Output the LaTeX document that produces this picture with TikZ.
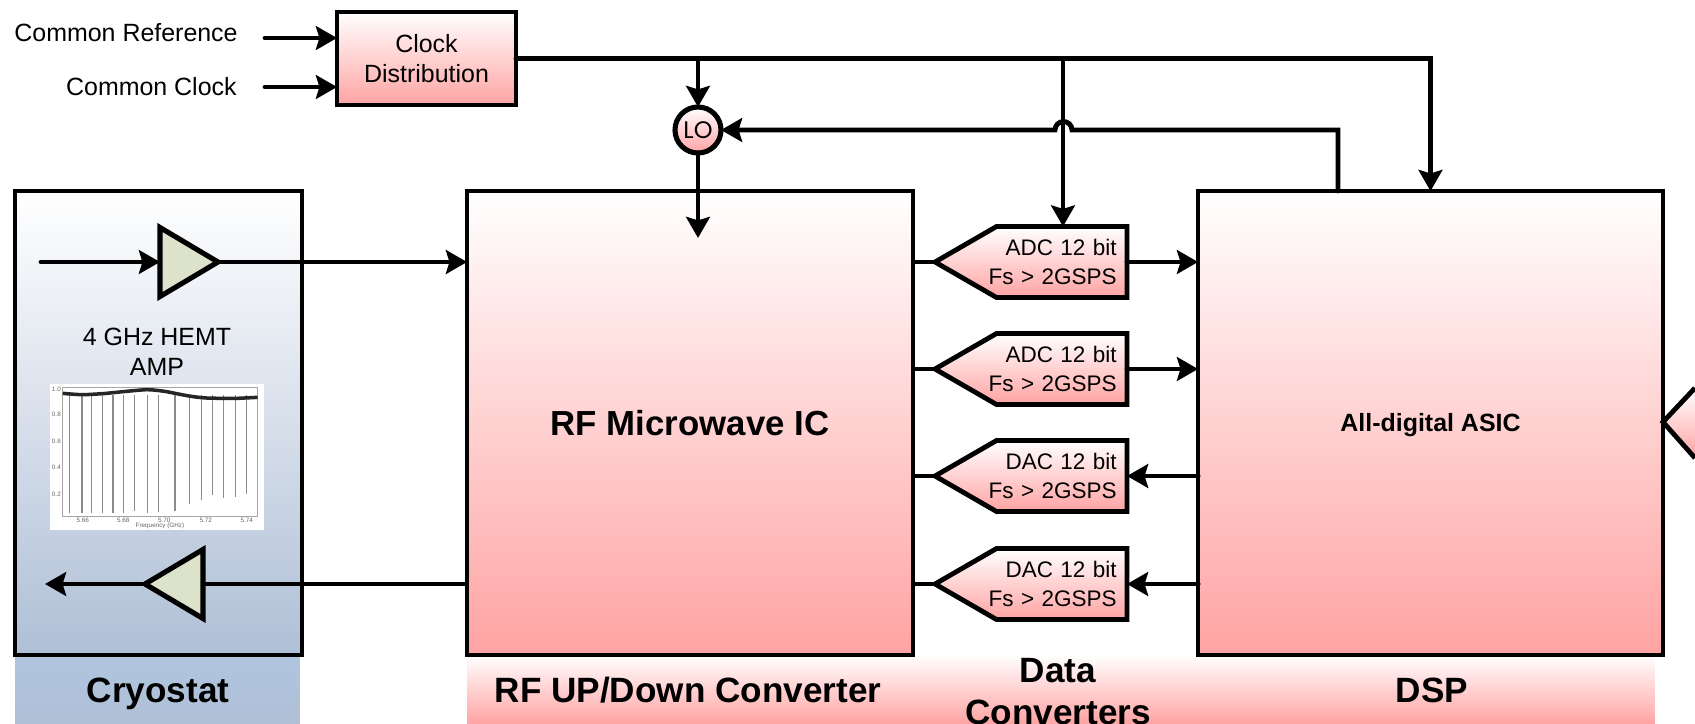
\documentclass[tikz,border=0pt]{standalone}
\usepackage{fontspec}
\setmainfont{Liberation Sans}
\newfontfamily\lofont{Poppins}
\usetikzlibrary{shapes.geometric, shapes.symbols, arrows.meta, positioning}
\definecolor{PinkEnd}{RGB}{255, 163, 163}
\definecolor{BlueEnd}{RGB}{175, 191, 214}
\definecolor{BlueStrip}{RGB}{177, 197, 224}
\definecolor{AmpGreen}{RGB}{221, 226, 203}
\definecolor{PlotGray}{RGB}{140, 140, 140}
\newcommand{\convlabel}[2]{\leavevmode\llap{#1}\\\leavevmode\llap{#2}}

\begin{document}
\begin{tikzpicture}[
    x=0.02cm, y=-0.02cm,
    pinkfill/.style={top color=white, bottom color=PinkEnd},
    block/.style={rectangle, draw=black, pinkfill, line width=2.75pt, outer sep=0pt, align=center},
    ampbox/.style={isosceles triangle, isosceles triangle stretches, draw=black, fill=AmpGreen, line width=2.9pt, inner sep=0pt, outer sep=0pt, minimum width=1.38cm, minimum height=1.16cm},
    conv/.style={signal, signal to=west, signal pointer angle=60, draw=black, pinkfill, line width=2.75pt, inner ysep=0pt, inner xsep=5.2pt, outer sep=0pt, minimum height=1.42cm, minimum width=3.84cm, text width=2.2cm, align=right, font=\fontsize{12.8}{16}\selectfont},
    arrow/.style={line width=2.8pt, line cap=round, -{Stealth[length=12pt, width=13.5pt, inset=2pt]}},
    wire/.style={line width=2.8pt},
    plain/.style={font=\fontsize{14.2}{17}\selectfont, align=center},
    title/.style={font=\fontsize{20}{24}\selectfont\bfseries, align=center}
]
    \useasboundingbox (0,0) rectangle (1695,724);

    % Strips under the blocks
    \node (cryostrip) [rectangle, inner sep=0pt, minimum width=5.7cm, minimum height=1.38cm, top color=BlueStrip, bottom color=BlueEnd] at (157.5,689.5) {};
    \node (pinkstrip) [rectangle, inner sep=0pt, minimum width=23.76cm, minimum height=1.38cm, pinkfill] at (1061,689.5) {};

    % Nodes placement
    \node (cryo) [block, top color=white, bottom color=BlueEnd, minimum width=5.74cm, minimum height=9.28cm] at (158.5,423) {};
    \node (rf) [block, minimum width=8.92cm, minimum height=9.28cm, font=\fontsize{19.8}{24}\selectfont\bfseries] at (690,423) {RF Microwave IC};
    \node (dsp) [block, minimum width=9.3cm, minimum height=9.28cm] at (1430.5,423) {};
    \node (asic) [inner sep=0pt, font=\fontsize{14.2}{17}\selectfont\bfseries] at (1430.5,425.5) {All-digital ASIC};
    \node (clock) [block, minimum width=3.58cm, minimum height=1.86cm, font=\fontsize{14.2}{16.8}\selectfont] at (426.5,58.5) {Clock\\Distribution};
    \node (lo) [circle, draw=black, pinkfill, line width=2.9pt, inner sep=0pt, outer sep=0pt, minimum size=0.92cm, font=\lofont\fontsize{13.6}{16}\selectfont] at (698,130) {LO};

    \node (adcone) [conv, anchor=east] at (1127,262) {\convlabel{ADC 12 bit}{Fs > 2GSPS}};
    \node (adctwo) [conv, anchor=east] at (1127,369) {\convlabel{ADC 12 bit}{Fs > 2GSPS}};
    \node (dacone) [conv, anchor=east] at (1127,476) {\convlabel{DAC 12 bit}{Fs > 2GSPS}};
    \node (dactwo) [conv, anchor=east] at (1127,584) {\convlabel{DAC 12 bit}{Fs > 2GSPS}};

    \node (ampin) [ampbox, anchor=apex] at (218,262) {};
    \node (ampout) [ampbox, shape border rotate=180, anchor=apex] at (145,584) {};

    % Text labels
    \node (commonref) [plain, anchor=east, inner sep=0pt] at (238,33) {Common Reference};
    \node (commonclk) [plain, anchor=east, inner sep=0pt] at (237,87) {Common Clock};
    \node (hemt) [plain, font=\fontsize{14.2}{16.8}\selectfont] at (157,352) {4 GHz HEMT\\AMP};
    \node (cryotext) [title, anchor=base, inner sep=0pt] at (158,702) {Cryostat};
    \node (rftext) [title, anchor=base, inner sep=0pt] at (688,702) {RF UP/Down Converter};
    \node (datatext) [title, anchor=south, inner sep=0pt] at (1058,725.5) {Data\\Converters};
    \node (dsptext) [title, anchor=base, inner sep=0pt] at (1432,702) {DSP};

    % Resonator plot inside the cryostat
    \begin{scope}[shift={(40,375)}, x=0.00667cm, y=-0.00667cm]
        \fill[white] (30,28) rectangle (672,465);
        \draw[black!35, line width=0.25pt] (68,38) rectangle (653,423);
        \foreach \xa/\ya in {88/415, 126/415, 155/415, 187/415, 219/415, 250/415, 284/408, 323/415, 356/412, 405/408, 448/388, 484/375, 518/360, 551/368, 586/365, 619/357}
            \draw[PlotGray, line width=0.8pt] (\xa,60) -- (\xa,\ya);
        \draw[black!85, line width=2pt] plot[smooth] coordinates {(68,55) (126,59) (187,56) (219,53) (270,48) (320,44) (350,46) (380,50) (420,58) (460,65) (500,69) (550,70) (590,70) (653,67)};
        \foreach \ya/\ylab in {42/1.0, 118/0.8, 198/0.6, 278/0.4, 358/0.2}
            \node[font=\fontsize{3.6}{4}\selectfont, anchor=east, inner sep=0.5pt, text=black!60] at (66,\ya) {\ylab};
        \foreach \xa/\xlab in {128/5.66, 250/5.68, 373/5.70, 497/5.72, 620/5.74}
            \node[font=\fontsize{3.6}{4}\selectfont, inner sep=0pt, text=black!60] at (\xa,435) {\xlab};
        \node[font=\fontsize{3.6}{4}\selectfont, inner sep=0pt, text=black!60] at (360,453) {Frequency (GHz)};
    \end{scope}

    % Clock inputs
    \coordinate (refstart) at (265,38);
    \coordinate (clkstart) at (265,87);
    \draw [arrow] (refstart) -- (refstart -| clock.west);
    \draw [arrow] (clkstart) -- (clkstart -| clock.west);

    % Clock distribution
    \coordinate (adcclk) at (1063,58.5);
    \draw [arrow] (clock.east) -| (dsp.north);
    \draw [arrow] (clock.east -| lo.north) -- (lo.north);
    \draw [arrow] (adcclk) -- (adcclk |- adcone.north);

    % LO path, hopping over the ADC clock
    \coordinate (loret) at (1338,191);
    \coordinate (loend) at (698,238);
    \draw [arrow] (loret) -- (1338,130) -- (1072,130) arc[start angle=0, end angle=-180, radius=8.5] -- (lo.east);
    \draw [arrow] (lo.south) -- (loend);

    % Signal path through the amplifiers
    \coordinate (ampstart) at (41,262);
    \coordinate (ampend) at (45,584);
    \draw [arrow] (ampstart) -- (ampin.lower side);
    \draw [arrow] (ampin.apex) -- (ampin.apex -| rf.west);
    \draw [wire] (ampout.lower side -| rf.west) -- (ampout.lower side);
    \draw [arrow] (ampout.apex) -- (ampend);

    % Data converters
    \draw [wire] (adcone.west -| rf.east) -- (adcone.west);
    \draw [wire] (adctwo.west -| rf.east) -- (adctwo.west);
    \draw [wire] (dacone.west -| rf.east) -- (dacone.west);
    \draw [wire] (dactwo.west -| rf.east) -- (dactwo.west);
    \draw [arrow] (adcone.east) -- (adcone.east -| dsp.west);
    \draw [arrow] (adctwo.east) -- (adctwo.east -| dsp.west);
    \draw [arrow] (dacone.east -| dsp.west) -- (dacone.east);
    \draw [arrow] (dactwo.east -| dsp.west) -- (dactwo.east);

    % Next block, cut by the page edge
    \draw [block] (1695,388) -- (1663,422) -- (1695,458);
\end{tikzpicture}
\end{document}
